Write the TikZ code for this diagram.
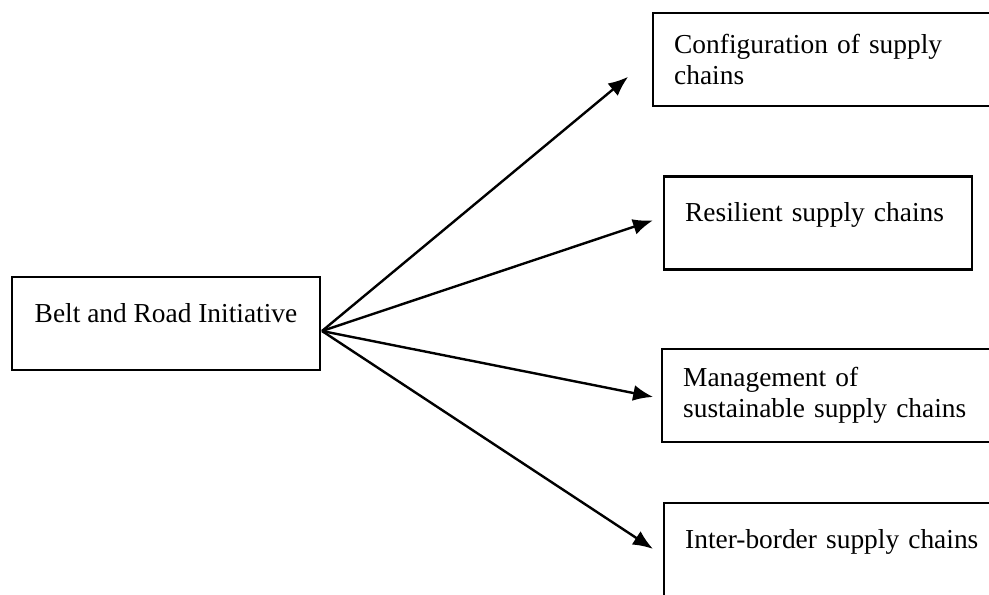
\documentclass[tikz,border=0pt]{standalone}
\usepackage{fontspec}
\setmainfont{Liberation Serif}
\usetikzlibrary{arrows.meta}

\begin{document}
\begin{tikzpicture}[x = 0.5pt, y = -0.5pt,
        box/.style = {draw, line width = 1.2pt, minimum height = 46.5pt, inner xsep = 10.5pt,
            font = \fontsize{13.7}{15.7}\selectfont},
        oneline/.style = {text height = 10pt, text depth = 11.5pt},
        item/.style = {box, anchor = west, align = left, text width = #1},
        item/.default = 160pt]
        \useasboundingbox (0,0) rectangle (989,594);
        \clip (0,0) rectangle (989,594);
        % left box
        \node[box, oneline, minimum width = 154pt] (bri) at (166,323.5) {Belt and Road Initiative};
        % right column
        \node[item] (cfg) at (652,59.5) {Configuration of supply\\chains};
        \node[item = 133pt, oneline] (res) at (663,223) {Resilient supply chains};
        \node[item] (mgmt) at (661,395.5) {Management of\\sustainable supply chains};
        \node[item, oneline] (inter) at (663,549.5) {Inter-border supply chains};
        \coordinate (hub) at (322,331);
        \foreach \t/\dy/\s in {cfg/1.25pt/15.5pt, res/3pt/5.3pt, mgmt/-1.5pt/4pt, inter/-3pt/6pt}
            \draw[line width = 1.2pt, -{Latex[length = 10pt, width = 8pt]}, shorten >= \s] (hub) -- ([yshift = \dy]\t.west);
\end{tikzpicture}
\end{document}
